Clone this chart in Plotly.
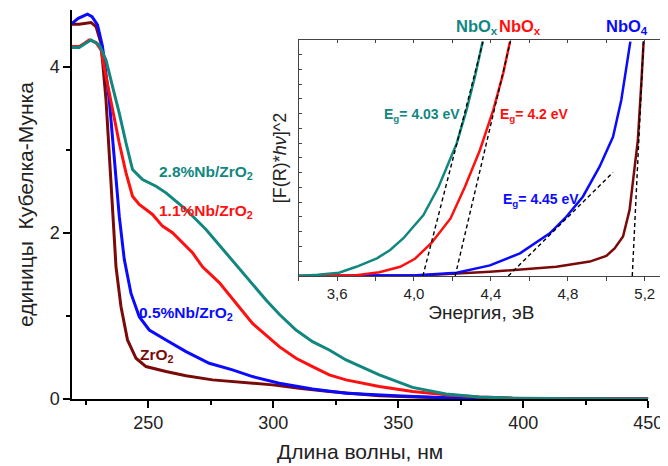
import plotly.graph_objects as go

# ---------------- main plot data (wavelength, nm ; Kubelka-Munk units) ----------------
wl_zro2 = [219.5, 222.4, 227.1, 229.1, 231.1, 233.1, 235.1, 237.1, 239.1, 241.7, 245.1, 249.1,
           257.1, 265.1, 275.7, 286.4, 299.7, 310.4, 322.4, 342.4, 360, 380, 400, 425, 450]
km_zro2 = [4.51, 4.51, 4.53, 4.48, 4.28, 3.60, 2.60, 1.59, 1.11, 0.71, 0.49, 0.39,
           0.33, 0.28, 0.23, 0.20, 0.17, 0.13, 0.09, 0.04, 0.02, 0.01, 0.005, 0.002, 0.0]

wl_05 = [219.5, 222.0, 225.7, 227.5, 229.7, 231.7, 234.4, 236.4, 238.4, 240.4, 243.1, 246.4,
         250.4, 257.1, 265.1, 274.4, 283.7, 291.7, 302.4, 315.7, 329.1, 349.1, 369.1, 390, 420, 450]
km_05 = [4.52, 4.58, 4.63, 4.60, 4.50, 4.24, 3.60, 2.88, 2.20, 1.68, 1.27, 0.99,
         0.83, 0.71, 0.57, 0.43, 0.35, 0.27, 0.19, 0.12, 0.07, 0.04, 0.015, 0.005, 0.002, 0.0]

wl_11 = [219.5, 222.4, 224.5, 226.4, 229.1, 231.1, 233.1, 235.7, 238.4, 241.1, 243.7, 246.4,
         251.7, 255.7, 259.7, 267.7, 271.7, 278.4, 285.1, 291.7, 302.4, 309.1, 315.7, 322.4,
         329.1, 342.4, 355.7, 369.1, 382.4, 395.7, 420, 450]
km_11 = [4.24, 4.24, 4.28, 4.32, 4.29, 4.20, 3.88, 3.48, 3.08, 2.72, 2.44, 2.34,
         2.22, 2.08, 2.00, 1.76, 1.59, 1.40, 1.15, 0.91, 0.63, 0.49, 0.39, 0.29,
         0.23, 0.15, 0.09, 0.05, 0.024, 0.01, 0.003, 0.0]

wl_28 = [219.5, 222.4, 224.5, 227.1, 230.4, 233.1, 235.7, 238.4, 241.1, 243.7, 247.7, 253.1,
         257.1, 265.1, 273.1, 281.1, 289.1, 297.1, 302.4, 309.1, 315.7, 322.4, 329.1, 342.4,
         355.7, 369.1, 382.4, 395.7, 420, 450]
km_28 = [4.23, 4.23, 4.27, 4.32, 4.26, 4.08, 3.76, 3.44, 3.08, 2.76, 2.64, 2.56,
         2.48, 2.28, 2.04, 1.76, 1.48, 1.19, 1.02, 0.83, 0.69, 0.59, 0.47, 0.29,
         0.14, 0.06, 0.024, 0.01, 0.003, 0.0]

# ---------------- inset data (energy, eV ; [F(R)*hv]^2, arbitrary units) ----------------
e_28 = [3.40, 3.50, 3.61, 3.70, 3.807, 3.876, 3.945, 4.049, 4.128, 4.222, 4.273, 4.317, 4.357]
f_28 = [0.0, 0.5, 1.4, 3.9, 7.5, 11.0, 16.0, 25.8, 37.8, 56.2, 70.3, 84.5, 99.3]

e_11 = [3.40, 3.70, 3.82, 3.928, 4.005, 4.092, 4.190, 4.265, 4.343, 4.412, 4.464, 4.499]
f_11 = [0.0, 0.3, 1.6, 3.9, 7.3, 14.1, 24.4, 37.8, 53.4, 70.3, 85.9, 99.3]

e_05 = [3.40, 4.013, 4.222, 4.395, 4.551, 4.654, 4.706, 4.792, 4.878, 4.965, 5.035, 5.078, 5.104, 5.125]
f_05 = [0.0, 0.3, 1.4, 4.5, 9.6, 15.2, 18.1, 25.1, 33.6, 46.3, 59.0, 74.6, 88.7, 99.3]

e_zr = [3.40, 4.049, 4.395, 4.740, 4.914, 5.000, 5.043, 5.087, 5.121, 5.147, 5.164, 5.182, 5.194]
f_zr = [0.0, 0.3, 1.8, 3.9, 6.1, 8.5, 11.7, 16.7, 28.0, 46.3, 57.6, 81.6, 99.3]

# tangent (band-gap) lines: [start, end]
tan_28_e, tan_28_f = [4.046, 4.360], [0.0, 99.7]
tan_11_e, tan_11_f = [4.214, 4.502], [0.0, 99.7]
tan_05_e, tan_05_f = [4.490, 5.035], [0.0, 43.9]
tan_zr_e, tan_zr_f = [5.135, 5.194], [0.0, 99.7]

x_ticks = [250, 300, 350, 400, 450]
y_ticks = [0, 2, 4]
e_ticks = [3.6, 4.0, 4.4, 4.8, 5.2]
e_tick_text = ["3,6", "4,0", "4,4", "4,8", "5,2"]

C_TEAL = "#11877f"
C_RED = "#ff1010"
C_BLUE = "#0a0aff"
C_BROWN = "#7a0a0a"
FONT = "Liberation Sans, Arial, sans-serif"
TXT = "#222"

fig = go.Figure()

# main curves
for xs, ys, c in [(wl_zro2, km_zro2, C_BROWN), (wl_05, km_05, C_BLUE),
                  (wl_11, km_11, C_RED), (wl_28, km_28, C_TEAL)]:
    fig.add_trace(go.Scatter(x=xs, y=ys, mode="lines", line=dict(color=c, width=3),
                             xaxis="x", yaxis="y", showlegend=False, hoverinfo="skip"))

# inset curves
for xs, ys, c in [(e_zr, f_zr, C_BROWN), (e_05, f_05, C_BLUE),
                  (e_11, f_11, C_RED), (e_28, f_28, C_TEAL)]:
    fig.add_trace(go.Scatter(x=xs, y=ys, mode="lines", line=dict(color=c, width=2.5),
                             xaxis="x2", yaxis="y2", showlegend=False, hoverinfo="skip"))

# tangents
for xs, ys in [(tan_28_e, tan_28_f), (tan_11_e, tan_11_f),
               (tan_05_e, tan_05_f), (tan_zr_e, tan_zr_f)]:
    fig.add_trace(go.Scatter(x=xs, y=ys, mode="lines",
                             line=dict(color="black", width=1.4, dash="4px,3px"),
                             xaxis="x2", yaxis="y2", showlegend=False, hoverinfo="skip"))

# invisible trace to activate the top tick axis of the inset
fig.add_trace(go.Scatter(x=[3.4, 5.3], y=[0, 0], mode="lines", line=dict(width=0),
                         xaxis="x3", yaxis="y2", showlegend=False, hoverinfo="skip"))

main_labels = [
    ("2.8%Nb/ZrO<sub>2</sub>", 253.4, 2.72, C_TEAL),
    ("1.1%Nb/ZrO<sub>2</sub>", 253.5, 2.25, C_RED),
    ("0.5%Nb/ZrO<sub>2</sub>", 245.5, 1.03, C_BLUE),
    ("ZrO<sub>2</sub>", 245.9, 0.52, C_BROWN),
]
for t, x, y, c in main_labels:
    fig.add_annotation(text=f"<b>{t}</b>", x=x, y=y, xref="x", yref="y", xanchor="left",
                       yanchor="middle", showarrow=False, font=dict(color=c, size=15.5, family=FONT))

top_labels = [
    ("NbO<sub>x</sub>", 4.330, C_TEAL),
    ("NbO<sub>x</sub>", 4.552, C_RED),
    ("NbO<sub>4</sub>", 5.108, C_BLUE),
]
for t, x, c in top_labels:
    fig.add_annotation(text=f"<b>{t}</b>", x=x, y=1.055, xref="x2", yref="y2 domain",
                       xanchor="center", yanchor="middle", showarrow=False,
                       font=dict(color=c, size=16.5, family=FONT))

eg_labels = [
    ("E<sub>g</sub>= 4.03 eV", 4.041, 68.2, C_TEAL),
    ("E<sub>g</sub>= 4.2 eV", 4.626, 68.2, C_RED),
    ("E<sub>g</sub>= 4.45 eV", 4.663, 32.4, C_BLUE),
]
for t, x, y, c in eg_labels:
    fig.add_annotation(text=f"<b>{t}</b>", x=x, y=y, xref="x2", yref="y2", xanchor="center",
                       yanchor="middle", showarrow=False, font=dict(color=c, size=14, family=FONT))

# the page adds an 8px body margin, so the figure is 8px smaller than the window
fig.update_layout(
    width=660, height=458,
    margin=dict(l=64, r=4, t=2, b=67),
    paper_bgcolor="white", plot_bgcolor="white",
    font=dict(family=FONT, color=TXT),
    xaxis=dict(domain=[0, 0.9735], range=[219.5, 450], tickvals=x_ticks, automargin=False,
               showline=True, linecolor="black", linewidth=1.5, ticks="outside",
               ticklen=7, tickwidth=1.5, tickcolor="black", showgrid=False, zeroline=False,
               minor=dict(dtick=25, tick0=225, ticks="outside", ticklen=4, tickwidth=1.5, tickcolor="black"),
               tickfont=dict(size=18, color=TXT),
               title=dict(text="Длина волны, нм", font=dict(size=21, color=TXT), standoff=12)),
    yaxis=dict(domain=[0, 1], range=[0, 4.68], tickvals=y_ticks, automargin=False,
               showline=True, linecolor="black", linewidth=1.5, ticks="outside",
               ticklen=7, tickwidth=1.5, tickcolor="black", showgrid=False, zeroline=False,
               minor=dict(dtick=1, ticks="outside", ticklen=4, tickwidth=1.5, tickcolor="black"),
               tickfont=dict(size=18, color=TXT),
               title=dict(text="единицы  Кубелка-Мунка", font=dict(size=21, color=TXT), standoff=10)),
    xaxis2=dict(domain=[0.3828, 1], anchor="y2", range=[3.4, 5.3], tickvals=e_ticks, automargin=False,
                ticktext=e_tick_text, showline=True, mirror=True, linecolor="#444", linewidth=1.3,
                ticks="outside", ticklen=4, tickwidth=1.2, tickcolor="#444",
                minor=dict(dtick=0.2, tick0=3.4, ticks="outside", ticklen=4, tickwidth=1.2, tickcolor="#444"),
                showgrid=False, zeroline=False, tickfont=dict(size=15, color=TXT),
                title=dict(text="Энергия, эВ", font=dict(size=19, color=TXT), standoff=2)),
    xaxis3=dict(overlaying="x2", anchor="y2", side="top", range=[3.4, 5.3], dtick=0.2, tick0=3.4,
                showticklabels=False, ticks="inside", ticklen=3, tickwidth=1.2, tickcolor="#444",
                showline=False, showgrid=False, zeroline=False, automargin=False),
    yaxis2=dict(domain=[0.3162, 0.9229], anchor="x2", range=[0, 100], dtick=6.25, automargin=False,
                showticklabels=False, showline=True, mirror="ticks", linecolor="#444", linewidth=1.3,
                ticks="inside", ticklen=3, tickwidth=1.2, tickcolor="#444",
                showgrid=False, zeroline=False,
                title=dict(text="[F(R)*<i>hν</i>]^2", font=dict(size=18, color=TXT), standoff=6)),
)

fig.write_html("out.html")
